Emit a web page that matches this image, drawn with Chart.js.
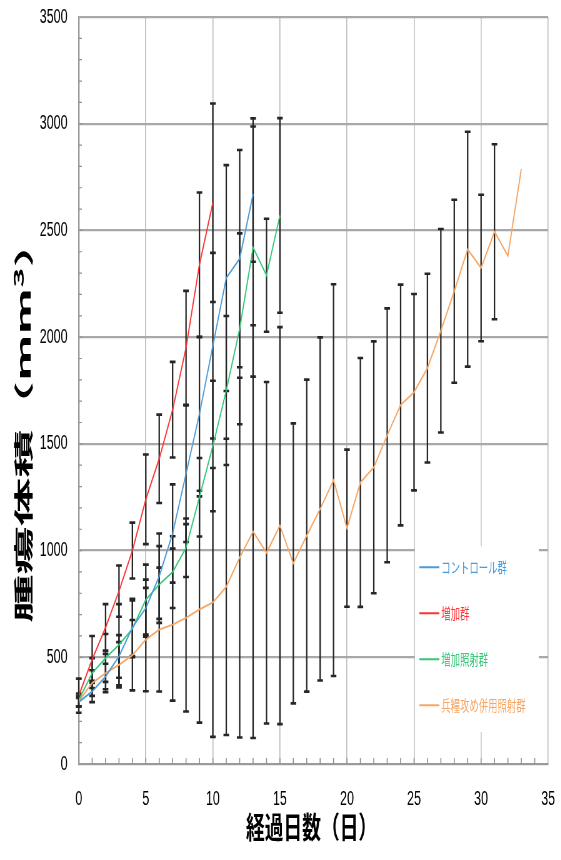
<!DOCTYPE html>
<html>
<head>
<meta charset="utf-8">
<script src="https://cdn.jsdelivr.net/npm/chart.js@4.4.1/dist/chart.umd.min.js"></script>
<style>
  html, body { margin: 0; padding: 0; background: #fff; overflow: hidden; width: 561px; height: 860px; }
  /* 元画像は横方向に圧縮されているので、描画後に横だけ縮める */
  #wrap { width: 898px; height: 860px; transform: scaleX(0.625); transform-origin: 0 0; }
</style>
</head>
<body>
<div id="wrap"><canvas id="tumorChart" width="898" height="860"></canvas></div>
<script>
// 経過日数
const days = [0, 1, 2, 3, 4, 5, 6, 7, 8, 9, 10, 11, 12, 13, 14, 15, 16, 17, 18, 19, 20,
  21, 22, 23, 24, 25, 26, 27, 28, 29, 30, 31, 32, 33];

// 平均値と標準偏差（mm3）
const controlMean = [290, 340, 410, 504, 640, 730, 880, 1080, 1360, 1640, 1960, 2277, 2368, 2670];
const controlSd   = [20, 50, 60, 100, 134, 134, 200, 230, 320, 360, 435, 529, 509, 317];

const increaseMean = [320, 490, 640, 810, 1000, 1240, 1430, 1660, 1950, 2340, 2630];
const increaseSd   = [80, 110, 109, 120, 131, 210, 207, 224, 267, 338, 465];

const irradMean = [300, 426, 497, 559, 633, 770, 841, 899, 1013, 1250, 1490, 1750, 2039, 2420, 2290, 2570];
const irradSd   = [30, 70, 112, 190, 133, 164, 180, 168, 137, 184, 306, 349, 447, 605, 265, 456];

const comboMean = [295, 379, 426, 465, 510, 583, 630, 653, 685, 724, 757, 830, 967, 1089, 990, 1117,
  940, 1070, 1195, 1330, 1105, 1319, 1390, 1540, 1682, 1742, 1855, 2030, 2215, 2412, 2324, 2494, 2381, 2788];
const comboSd   = [25, 60, 90, 106, 165, 242, 290, 356, 439, 530, 630, 694, 843, 967, 800, 930,
  656, 731, 804, 918, 368, 583, 590, 595, 564, 460, 442, 477, 429, 550, 343, 410, null, null];

const seriesLabels = ["コントロール群", "増加群", "増加照射群", "兵糧攻め併用照射群"];
const seriesColors = ["#4a9bdb", "#ff3535", "#35c776", "#f7a663"];

const xTicks = [0, 5, 10, 15, 20, 25, 30, 35];
const yTicks = [0, 500, 1000, 1500, 2000, 2500, 3000, 3500];

const TICK_FONT = '"Liberation Sans", Arial, sans-serif';
const JP_FONT = '"Noto Sans CJK JP", "Noto Sans CJK SC", sans-serif';

function toPoints(mean) {
  return mean.map((v, i) => ({ x: days[i], y: v }));
}

const means = [controlMean, increaseMean, irradMean, comboMean];
const sds = [controlSd, increaseSd, irradSd, comboSd];

// エラーバー
const errorBars = {
  id: "errorBars",
  beforeDatasetsDraw(chart) {
    const { ctx, scales: { x, y } } = chart;
    ctx.save();
    ctx.strokeStyle = "#262626";
    chart.data.datasets.forEach((ds, i) => {
      const sd = sds[i];
      ds.data.forEach((p, j) => {
        if (sd[j] == null) return;
        const px = x.getPixelForValue(p.x);
        const top = y.getPixelForValue(p.y + sd[j]);
        const bot = y.getPixelForValue(p.y - sd[j]);
        ctx.lineWidth = 2.3;
        ctx.beginPath();
        ctx.moveTo(px, top);
        ctx.lineTo(px, bot);
        ctx.stroke();
        ctx.lineWidth = 2.6;
        ctx.beginPath();
        ctx.moveTo(px - 4.5, top); ctx.lineTo(px + 4.5, top);
        ctx.moveTo(px - 4.5, bot); ctx.lineTo(px + 4.5, bot);
        ctx.stroke();
      });
    });
    ctx.restore();
  }
};

// 補助目盛
const minorTicks = {
  id: "minorTicks",
  beforeDatasetsDraw(chart) {
    const { ctx, chartArea, scales: { x, y } } = chart;
    ctx.save();
    ctx.strokeStyle = "#8f8f8f";
    ctx.lineWidth = 1.6;
    ctx.beginPath();
    for (let d = x.min + 1; d < x.max; d++) {
      const px = x.getPixelForValue(d);
      ctx.moveTo(px, chartArea.bottom);
      ctx.lineTo(px, chartArea.bottom - 6);
    }
    ctx.stroke();
    ctx.lineWidth = 1.2;
    ctx.beginPath();
    for (let v = y.min + 100; v < y.max; v += 100) {
      const py = y.getPixelForValue(v);
      ctx.moveTo(chartArea.left, py);
      ctx.lineTo(chartArea.left + 5, py);
    }
    ctx.stroke();
    ctx.restore();
  }
};

// 凡例と軸タイトル
const overlay = {
  id: "overlay",
  afterDraw(chart) {
    const { ctx, chartArea, scales: { x, y } } = chart;
    ctx.save();

    // 凡例
    const left = x.getPixelForValue(25) + 1.5;
    const right = x.getPixelForValue(34.3);
    const top = y.getPixelForValue(1020);
    const bottom = y.getPixelForValue(150);
    ctx.fillStyle = "#fff";
    ctx.fillRect(left, top, right - left, bottom - top);
    ctx.font = "15px " + JP_FONT;
    ctx.textBaseline = "middle";
    ctx.textAlign = "left";
    seriesLabels.forEach((label, i) => {
      const ly = top + 21 + i * 46;
      ctx.strokeStyle = seriesColors[i];
      ctx.lineWidth = 2;
      ctx.beginPath();
      ctx.moveTo(left + 7, ly);
      ctx.lineTo(left + 39, ly);
      ctx.stroke();
      ctx.fillStyle = seriesColors[i];
      ctx.fillText(label, left + 42, ly);
    });

    // X軸タイトル
    ctx.fillStyle = "#000";
    ctx.font = "bold 30px " + JP_FONT;
    ctx.textAlign = "center";
    ctx.fillText("経過日数（日）", (chartArea.left + chartArea.right) / 2 - 3, 827);

    // Y軸タイトル（回転）
    ctx.translate(37, 421);
    ctx.rotate(-Math.PI / 2);
    ctx.scale(1.56, 1);
    const a = "腫瘍体積（mm", b = "3", c = "）";
    ctx.font = "bold 31px " + JP_FONT;
    const wa = ctx.measureText(a).width, wc = ctx.measureText(c).width;
    ctx.font = "bold 22px " + JP_FONT;
    const wb = ctx.measureText(b).width;
    const sx = -(wa + wb + wc) / 2;
    ctx.textAlign = "left";
    ctx.font = "bold 31px " + JP_FONT;
    ctx.fillText(a, sx, 0);
    ctx.font = "bold 22px " + JP_FONT;
    ctx.fillText(b, sx + wa, -7);
    ctx.font = "bold 31px " + JP_FONT;
    ctx.fillText(c, sx + wa + wb, 0);
    ctx.restore();
  }
};

new Chart(document.getElementById("tumorChart").getContext("2d"), {
  type: "line",
  data: {
    datasets: means.map((m, i) => ({
      label: seriesLabels[i],
      data: toPoints(m),
      borderColor: seriesColors[i],
      backgroundColor: seriesColors[i],
      borderWidth: 1.9,
      pointRadius: 0,
      tension: 0,
      fill: false
    }))
  },
  options: {
    responsive: false,
    animation: false,
    devicePixelRatio: 1,
    layout: { padding: { top: 17, right: 21, left: 0, bottom: 0 } },
    plugins: { legend: { display: false }, tooltip: { enabled: false } },
    scales: {
      x: {
        type: "linear",
        min: xTicks[0],
        max: xTicks[xTicks.length - 1],
        afterBuildTicks: s => { s.ticks = xTicks.map(v => ({ value: v })); },
        ticks: { padding: 23, color: "#000", font: { family: TICK_FONT, size: 20 }, callback: v => String(v) },
        grid: { color: "#bdbdbd", lineWidth: 1.6, drawTicks: false },
        border: { color: "#9a9a9a", width: 2 },
        afterFit: s => { s.height = 96; s.paddingLeft = 0; s.paddingRight = 0; }
      },
      y: {
        type: "linear",
        min: yTicks[0],
        max: yTicks[yTicks.length - 1],
        afterBuildTicks: s => { s.ticks = yTicks.map(v => ({ value: v })); },
        ticks: { padding: 18, color: "#000", font: { family: TICK_FONT, size: 20 }, callback: v => String(v) },
        grid: { color: "#a8a8a8", lineWidth: 2.2, drawTicks: false },
        border: { color: "#9a9a9a", width: 2.4 },
        afterFit: s => { s.width = 126; s.paddingTop = 0; s.paddingBottom = 0; }
      }
    }
  },
  plugins: [minorTicks, errorBars, overlay]
});
</script>
</body>
</html>
